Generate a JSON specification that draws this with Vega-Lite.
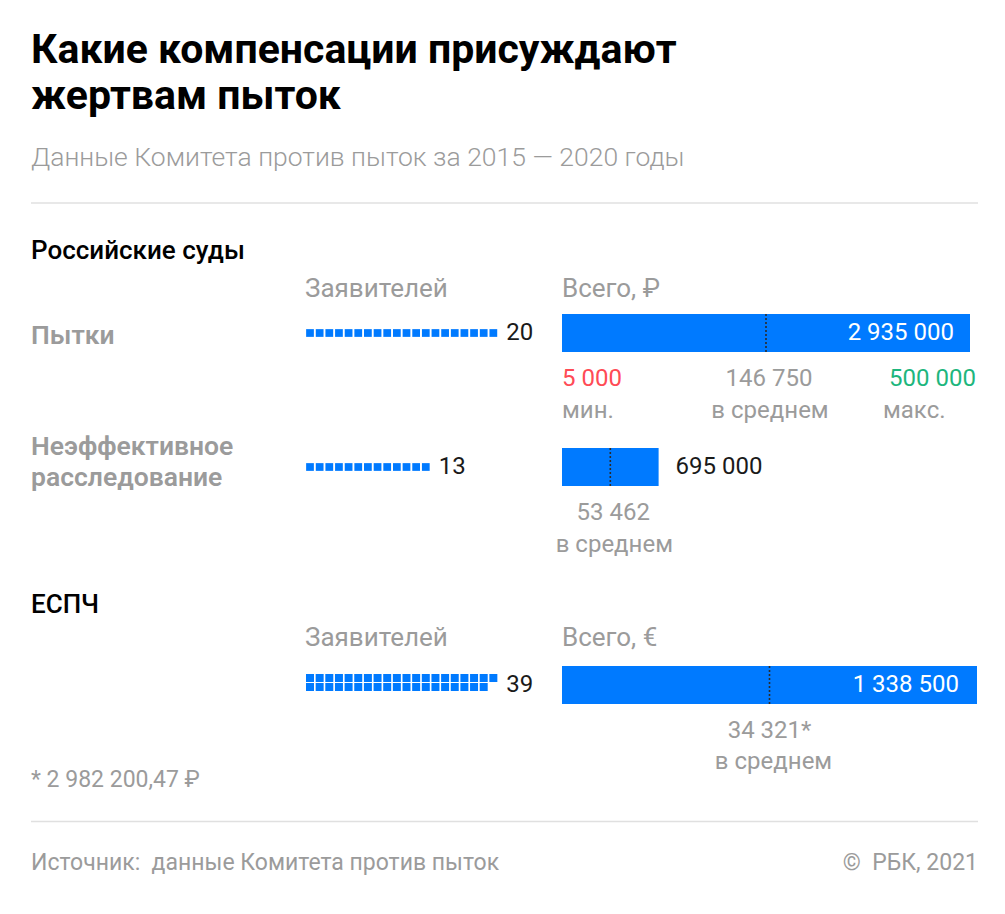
{
  "$schema": "https://vega.github.io/schema/vega-lite/v6.json",
  "background": "white",
  "padding": {"left": 30, "top": 29, "right": 0, "bottom": 0},
  "autosize": {"type": "pad"},
  "bounds": "flush",
  "spacing": 0,
  "columns": 3,
  "align": "each",
  "title": {
    "text": ["Какие компенсации присуждают", "жертвам пыток"],
    "subtitle": "Данные Комитета против пыток за 2015 — 2020 годы",
    "anchor": "start",
    "frame": "group",
    "font": "Roboto",
    "fontSize": 41,
    "fontWeight": 700,
    "color": "#000000",
    "lineHeight": 46,
    "subtitleFont": "Roboto",
    "subtitleFontSize": 26.5,
    "subtitleFontWeight": 300,
    "subtitleColor": "#9b9b9b",
    "subtitlePadding": 27,
    "offset": 30
  },
  "config": {
    "view": {"stroke": null},
    "locale": {"number": {"decimal": ",", "thousands": " ", "grouping": [3], "currency": ["", ""]}},
    "text": {"font": "Roboto"},
    "title": {"font": "Roboto"}
  },
  "datasets": {
    "rus": [
      {"category": "Пытки", "applicants": 20, "total": 2935000, "mean": 146750, "min": 5000, "max": 500000},
      {"category": "Неэффективное расследование", "applicants": 13, "total": 695000, "mean": 53462}
    ],
    "echr": [
      {"category": "ЕСПЧ", "applicants": 39, "total": 1338500, "mean": 34321, "note": "*"}
    ],
    "rus_squares": [
      {"category": "Пытки", "n": 1}, {"category": "Пытки", "n": 2}, {"category": "Пытки", "n": 3}, {"category": "Пытки", "n": 4}, {"category": "Пытки", "n": 5},
      {"category": "Пытки", "n": 6}, {"category": "Пытки", "n": 7}, {"category": "Пытки", "n": 8}, {"category": "Пытки", "n": 9}, {"category": "Пытки", "n": 10},
      {"category": "Пытки", "n": 11}, {"category": "Пытки", "n": 12}, {"category": "Пытки", "n": 13}, {"category": "Пытки", "n": 14}, {"category": "Пытки", "n": 15},
      {"category": "Пытки", "n": 16}, {"category": "Пытки", "n": 17}, {"category": "Пытки", "n": 18}, {"category": "Пытки", "n": 19}, {"category": "Пытки", "n": 20},
      {"category": "Неэффективное расследование", "n": 1}, {"category": "Неэффективное расследование", "n": 2}, {"category": "Неэффективное расследование", "n": 3},
      {"category": "Неэффективное расследование", "n": 4}, {"category": "Неэффективное расследование", "n": 5}, {"category": "Неэффективное расследование", "n": 6},
      {"category": "Неэффективное расследование", "n": 7}, {"category": "Неэффективное расследование", "n": 8}, {"category": "Неэффективное расследование", "n": 9},
      {"category": "Неэффективное расследование", "n": 10}, {"category": "Неэффективное расследование", "n": 11}, {"category": "Неэффективное расследование", "n": 12},
      {"category": "Неэффективное расследование", "n": 13}
    ],
    "echr_squares": [
      {"n": 1}, {"n": 2}, {"n": 3}, {"n": 4}, {"n": 5}, {"n": 6}, {"n": 7}, {"n": 8}, {"n": 9}, {"n": 10},
      {"n": 11}, {"n": 12}, {"n": 13}, {"n": 14}, {"n": 15}, {"n": 16}, {"n": 17}, {"n": 18}, {"n": 19}, {"n": 20},
      {"n": 21}, {"n": 22}, {"n": 23}, {"n": 24}, {"n": 25}, {"n": 26}, {"n": 27}, {"n": 28}, {"n": 29}, {"n": 30},
      {"n": 31}, {"n": 32}, {"n": 33}, {"n": 34}, {"n": 35}, {"n": 36}, {"n": 37}, {"n": 38}, {"n": 39}
    ],
    "notes": [
      {"line": "note", "kind": "footnote", "text": "* 2 982 200,47 ₽"},
      {"line": "sep", "kind": "separator", "text": ""},
      {"line": "src", "kind": "source", "text": "Источник:\u00a0 данные Комитета против пыток"},
      {"line": "src", "kind": "copyright", "text": "©\u00a0 РБК, 2021"}
    ]
  },
  "concat": [
    {
      "width": 274, "height": 100,
      "data": {"values": [{}]},
      "mark": {"type": "rule", "color": "#e0e0e0", "strokeWidth": 1.5},
      "encoding": {
        "x": {"datum": 0, "type": "quantitative", "scale": {"domain": [0, 1], "nice": false}, "axis": null},
        "x2": {"datum": 1},
        "y": {"datum": 1, "type": "quantitative", "scale": {"domain": [0, 1], "nice": false}, "axis": null}
      }
    },
    {
      "width": 257, "height": 100,
      "data": {"values": [{}]},
      "mark": {"type": "rule", "color": "#e0e0e0", "strokeWidth": 1.5},
      "encoding": {
        "x": {"datum": 0, "type": "quantitative", "scale": {"domain": [0, 1], "nice": false}, "axis": null},
        "x2": {"datum": 1},
        "y": {"datum": 1, "type": "quantitative", "scale": {"domain": [0, 1], "nice": false}, "axis": null}
      }
    },
    {
      "width": 416, "height": 100,
      "data": {"values": [{}]},
      "mark": {"type": "rule", "color": "#e0e0e0", "strokeWidth": 1.5},
      "encoding": {
        "x": {"datum": 0, "type": "quantitative", "scale": {"domain": [0, 1], "nice": false}, "axis": null},
        "x2": {"datum": 1},
        "y": {"datum": 1, "type": "quantitative", "scale": {"domain": [0, 1], "nice": false}, "axis": null}
      }
    },
    {
      "width": 274,
      "height": 348,
      "title": {"text": "Российские суды", "anchor": "start", "frame": "group", "fontSize": 26, "fontWeight": 500, "color": "#000000", "offset": 39},
      "data": {"name": "rus"},
      "encoding": {
        "x": {"datum": 0, "type": "quantitative", "scale": {"domain": [0, 1], "nice": false}, "axis": null},
        "y": {"field": "category", "type": "nominal", "scale": {"type": "point", "domain": ["Пытки", "Неэффективное расследование"], "padding": 0.7985, "align": 0.1402}, "axis": null},
        "text": {"field": "category", "type": "nominal"}
      },
      "layer": [
        {
          "transform": [{"filter": "indexof(datum.category, ' ') < 0"}],
          "mark": {"type": "text", "align": "left", "baseline": "middle", "dy": 3, "fontSize": 26.5, "fontWeight": 600, "color": "#9b9b9b"}
        },
        {
          "transform": [{"filter": "indexof(datum.category, ' ') >= 0"}],
          "mark": {"type": "text", "align": "left", "baseline": "middle", "dy": -20, "fontSize": 26.5, "fontWeight": 600, "color": "#9b9b9b", "lineBreak": " ", "lineHeight": 31}
        }
      ]
    },
    {
      "width": 257,
      "height": 348,
      "title": {"text": "Заявителей", "anchor": "start", "frame": "group", "fontSize": 26, "fontWeight": 400, "color": "#9b9b9b", "offset": 1},
      "encoding": {
        "y": {"field": "category", "type": "nominal", "scale": {"type": "point", "domain": ["Пытки", "Неэффективное расследование"], "padding": 0.7985, "align": 0.1402}, "axis": null}
      },
      "layer": [
        {
          "data": {"name": "rus_squares"},
          "mark": {"type": "square", "size": 60, "opacity": 1, "color": "#007AFF"},
          "encoding": {
            "x": {"field": "n", "type": "quantitative", "scale": {"domain": [0.482, 27.114], "nice": false, "zero": false}, "axis": null}
          }
        },
        {
          "data": {"name": "rus"},
          "mark": {"type": "text", "align": "left", "baseline": "middle", "dx": 13, "fontSize": 24, "color": "#1a1a1a"},
          "encoding": {
            "x": {"field": "applicants", "type": "quantitative"},
            "text": {"field": "applicants", "type": "nominal"}
          }
        }
      ]
    },
    {
      "width": 408,
      "height": 348,
      "title": {"text": "Всего, ₽", "anchor": "start", "frame": "group", "fontSize": 26, "fontWeight": 400, "color": "#9b9b9b", "offset": 1},
      "data": {"name": "rus"},
      "transform": [
        {"calculate": "datum.total / 2", "as": "mid"},
        {"calculate": "format(datum.mean, ',d') + (isValid(datum.note) ? datum.note : '')", "as": "meanLabel"}
      ],
      "encoding": {
        "y": {"field": "category", "type": "nominal", "scale": {"type": "point", "domain": ["Пытки", "Неэффективное расследование"], "padding": 0.7985, "align": 0.1402}, "axis": null}
      },
      "layer": [
        {
          "mark": {"type": "bar", "height": 38, "color": "#007AFF"},
          "encoding": {
            "x": {"field": "total", "type": "quantitative", "scale": {"domain": [0, 2935000], "nice": false}, "axis": null}
          }
        },
        {
          "mark": {"type": "rule", "yOffset": -19, "y2Offset": 19, "strokeDash": [2, 2], "strokeWidth": 1.6, "color": "#2b2b2b"},
          "encoding": {
            "x": {"field": "mid", "type": "quantitative"},
            "y2": {"field": "category"}
          }
        },
        {
          "transform": [{"filter": "datum.total >= 1000000"}],
          "mark": {"type": "text", "align": "right", "baseline": "middle", "dx": -16, "fontSize": 24, "color": "#ffffff"},
          "encoding": {"x": {"field": "total", "type": "quantitative"}, "text": {"field": "total", "type": "quantitative", "format": ",d"}}
        },
        {
          "transform": [{"filter": "datum.total < 1000000"}],
          "mark": {"type": "text", "align": "left", "baseline": "middle", "dx": 17, "fontSize": 24, "color": "#1a1a1a"},
          "encoding": {"x": {"field": "total", "type": "quantitative"}, "text": {"field": "total", "type": "quantitative", "format": ",d"}}
        },
        {
          "mark": {"type": "text", "align": "center", "baseline": "middle", "dx": 3, "dy": 46, "fontSize": 24, "color": "#9b9b9b"},
          "encoding": {"x": {"field": "mid", "type": "quantitative"}, "text": {"field": "meanLabel", "type": "nominal"}}
        },
        {
          "mark": {"type": "text", "align": "center", "baseline": "middle", "dx": 4, "dy": 78, "fontSize": 24, "color": "#9b9b9b"},
          "encoding": {"x": {"field": "mid", "type": "quantitative"}, "text": {"value": "в среднем"}}
        },
        {
          "transform": [{"filter": "isValid(datum.min)"}],
          "mark": {"type": "text", "align": "left", "baseline": "middle", "dy": 46, "fontSize": 24, "color": "#FF4B55"},
          "encoding": {"x": {"datum": 0, "type": "quantitative"}, "text": {"field": "min", "type": "quantitative", "format": ",d"}}
        },
        {
          "transform": [{"filter": "isValid(datum.min)"}],
          "mark": {"type": "text", "align": "left", "baseline": "middle", "dy": 78, "fontSize": 24, "color": "#9b9b9b"},
          "encoding": {"x": {"datum": 0, "type": "quantitative"}, "text": {"value": "мин."}}
        },
        {
          "transform": [{"filter": "isValid(datum.max)"}],
          "mark": {"type": "text", "align": "right", "baseline": "middle", "dx": 6, "dy": 46, "fontSize": 24, "color": "#1DB67D"},
          "encoding": {"x": {"field": "total", "type": "quantitative"}, "text": {"field": "max", "type": "quantitative", "format": ",d"}}
        },
        {
          "transform": [{"filter": "isValid(datum.max)"}],
          "mark": {"type": "text", "align": "left", "baseline": "middle", "dx": -87, "dy": 78, "fontSize": 24, "color": "#9b9b9b"},
          "encoding": {"x": {"field": "total", "type": "quantitative"}, "text": {"value": "макс."}}
        }
      ]
    },
    {
      "width": 274,
      "height": 100,
      "title": {"text": "ЕСПЧ", "anchor": "start", "frame": "group", "fontSize": 26, "fontWeight": 500, "color": "#000000", "offset": 33},
      "data": {"values": []},
      "mark": {"type": "text"},
      "encoding": {"text": {"value": ""}}
    },
    {
      "width": 257,
      "height": 100,
      "title": {"text": "Заявителей", "anchor": "start", "frame": "group", "fontSize": 26, "fontWeight": 400, "color": "#9b9b9b", "offset": 0},
      "layer": [
        {
          "data": {"name": "echr_squares"},
          "transform": [
            {"calculate": "(datum.n - 1) % 20 + 1", "as": "col"},
            {"calculate": "floor((datum.n - 1) / 20)", "as": "line"}
          ],
          "mark": {"type": "square", "size": 64, "opacity": 1, "color": "#007AFF"},
          "encoding": {
            "x": {"field": "col", "type": "quantitative", "scale": {"domain": [0.482, 27.114], "nice": false, "zero": false}, "axis": null},
            "y": {"field": "line", "type": "quantitative", "scale": {"domain": [-3, 8.111], "reverse": true, "nice": false, "zero": false}, "axis": null}
          }
        },
        {
          "data": {"name": "echr"},
          "transform": [{"calculate": "min(datum.applicants, 20)", "as": "col"}],
          "mark": {"type": "text", "align": "left", "baseline": "middle", "dx": 13, "dy": 2, "fontSize": 24, "color": "#1a1a1a"},
          "encoding": {
            "x": {"field": "col", "type": "quantitative"},
            "y": {"datum": 0.5, "type": "quantitative"},
            "text": {"field": "applicants", "type": "nominal"}
          }
        }
      ]
    },
    {
      "width": 415,
      "height": 100,
      "title": {"text": "Всего, €", "anchor": "start", "frame": "group", "fontSize": 26, "fontWeight": 400, "color": "#9b9b9b", "offset": 0},
      "data": {"name": "echr"},
      "transform": [
        {"calculate": "datum.total / 2", "as": "mid"},
        {"calculate": "format(datum.mean, ',d') + (isValid(datum.note) ? datum.note : '')", "as": "meanLabel"}
      ],
      "encoding": {
        "y": {"field": "category", "type": "nominal", "scale": {"type": "point", "domain": ["ЕСПЧ"], "align": 0.34}, "axis": null}
      },
      "layer": [
        {
          "mark": {"type": "bar", "height": 38, "color": "#007AFF"},
          "encoding": {
            "x": {"field": "total", "type": "quantitative", "scale": {"domain": [0, 1338500], "nice": false}, "axis": null}
          }
        },
        {
          "mark": {"type": "rule", "yOffset": -19, "y2Offset": 19, "strokeDash": [2, 2], "strokeWidth": 1.6, "color": "#2b2b2b"},
          "encoding": {
            "x": {"field": "mid", "type": "quantitative"},
            "y2": {"field": "category"}
          }
        },
        {
          "mark": {"type": "text", "align": "right", "baseline": "middle", "dx": -18, "fontSize": 24, "color": "#ffffff"},
          "encoding": {"x": {"field": "total", "type": "quantitative"}, "text": {"field": "total", "type": "quantitative", "format": ",d"}}
        },
        {
          "mark": {"type": "text", "align": "center", "baseline": "middle", "dy": 46, "fontSize": 24, "color": "#9b9b9b"},
          "encoding": {"x": {"field": "mid", "type": "quantitative"}, "text": {"field": "meanLabel", "type": "nominal"}}
        },
        {
          "mark": {"type": "text", "align": "center", "baseline": "middle", "dx": 4, "dy": 77, "fontSize": 24, "color": "#9b9b9b"},
          "encoding": {"x": {"field": "mid", "type": "quantitative"}, "text": {"value": "в среднем"}}
        }
      ]
    },
    {
      "width": 274,
      "height": 141,
      "data": {"name": "notes"},
      "encoding": {
        "y": {"field": "line", "type": "nominal", "scale": {"type": "point", "domain": ["note", "sep", "src"], "padding": 0.699}, "axis": null},
        "x": {"datum": 0, "type": "quantitative", "scale": {"domain": [0, 1], "nice": false}, "axis": null}
      },
      "layer": [
        {
          "transform": [{"filter": "datum.kind == 'footnote' || datum.kind == 'source'"}],
          "mark": {"type": "text", "align": "left", "baseline": "middle", "fontSize": 23, "color": "#9b9b9b"},
          "encoding": {"text": {"field": "text", "type": "nominal"}}
        },
        {
          "transform": [{"filter": "datum.kind == 'separator'"}],
          "mark": {"type": "rule", "color": "#e0e0e0", "strokeWidth": 1.5},
          "encoding": {"x2": {"datum": 1}}
        }
      ]
    },
    {
      "width": 257,
      "height": 141,
      "data": {"name": "notes"},
      "transform": [{"filter": "datum.kind == 'separator'"}],
      "mark": {"type": "rule", "color": "#e0e0e0", "strokeWidth": 1.5},
      "encoding": {
        "y": {"field": "line", "type": "nominal", "scale": {"type": "point", "domain": ["note", "sep", "src"], "padding": 0.699}, "axis": null},
        "x": {"datum": 0, "type": "quantitative", "scale": {"domain": [0, 1], "nice": false}, "axis": null},
        "x2": {"datum": 1}
      }
    },
    {
      "width": 416,
      "height": 141,
      "data": {"name": "notes"},
      "encoding": {
        "y": {"field": "line", "type": "nominal", "scale": {"type": "point", "domain": ["note", "sep", "src"], "padding": 0.699}, "axis": null}
      },
      "layer": [
        {
          "transform": [{"filter": "datum.kind == 'separator'"}],
          "mark": {"type": "rule", "color": "#e0e0e0", "strokeWidth": 1.5},
          "encoding": {
            "x": {"datum": 0, "type": "quantitative", "scale": {"domain": [0, 1], "nice": false}, "axis": null},
            "x2": {"datum": 1}
          }
        },
        {
          "transform": [{"filter": "datum.kind == 'copyright'"}],
          "mark": {"type": "text", "align": "right", "baseline": "middle", "fontSize": 23, "color": "#9b9b9b"},
          "encoding": {
            "x": {"datum": 1, "type": "quantitative"},
            "text": {"field": "text", "type": "nominal"}
          }
        }
      ]
    }
  ]
}
